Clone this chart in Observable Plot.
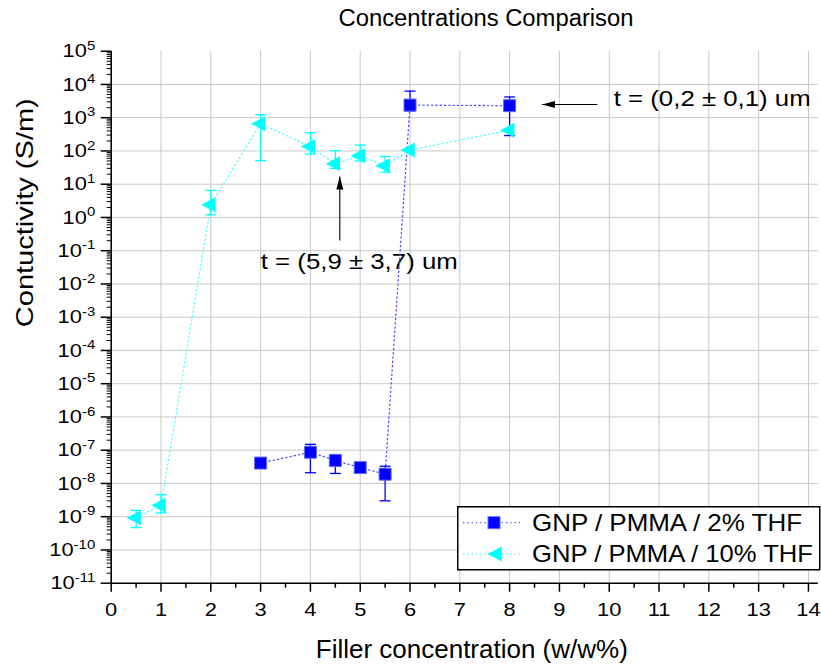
<!DOCTYPE html>
<html><head><meta charset="utf-8">
<script src="https://cdn.jsdelivr.net/npm/d3@7"></script>
<script src="https://cdn.jsdelivr.net/npm/@observablehq/plot@0.6"></script>
<style>
body{margin:0;background:#fff;font-family:"Liberation Sans",Arial,sans-serif;}
#wrap{position:relative;width:821px;height:664px;overflow:hidden;background:#fff;}
#title{position:relative;height:36px;}
#title span{position:absolute;left:486px;top:7px;font-size:23px;line-height:23px;white-space:nowrap;transform-origin:center;color:#000;}
#legend{position:absolute;left:457px;top:506px;}
</style></head><body>
<div id="wrap"><div id="title"><span id="t"></span></div><div id="chart"></div><svg id="legend" width="364" height="66"></svg></div>
<script>
// ---- text ----
const titleText = "Concentrations Comparison";
const xLabel = "Filler concentration (w/w%)";
const yLabel = "Contuctivity (S/m)";
const seriesNames = ["GNP / PMMA / 2% THF", "GNP / PMMA / 10% THF"];
const seriesColors = ["#0000ff", "#00ffff"];

// ---- series 1: GNP / PMMA / 2% THF ----
const conc2 = [3, 4, 4.5, 5, 5.5, 6, 8];
const cond2 = [4.1e-8, 8.7e-8, 4.9e-8, 3.0e-8, 1.9e-8, 2.4e3, 2.3e3];
const err2Lo = [null, 2.1e-8, 2.0e-8, null, 3.0e-9, 1.6e3, 2.9e2];
const err2Hi = [null, 1.5e-7, 7.4e-8, null, 3.3e-8, 6.3e3, 4.2e3];

// ---- series 2: GNP / PMMA / 10% THF ----
const conc10 = [0.5, 1, 2, 3, 4, 4.5, 5, 5.5, 6, 8];
const cond10 = [9.3e-10, 2.2e-9, 2.4, 660, 135, 41, 72, 36, 107, 420];
const err10Lo = [4.7e-10, 1.3e-9, 1.2, 51, 80, 30, 50, 23, null, null];
const err10Hi = [1.55e-9, 4.6e-9, 6.5, 1230, 355, 102, 150, 68, null, null];

// ---- axis ticks ----
const xTicks = d3.range(0, 15);
const xMinor = d3.range(0.5, 14, 1);
const yExponents = d3.range(-11, 6);

// ---- annotations (data coordinates) ----
const noteText = ["t = (0,2 ± 0,1) um", "t = (5,9 ± 3,7) um"];
const noteX = [10.09, 4.98];
const noteY = [Math.pow(10, 3.57), Math.pow(10, -1.346)];
const noteAnchor = ["start", "middle"];
const arrowFromX = [9.76, 4.59];
const arrowFromY = [Math.pow(10, 3.397), Math.pow(10, -0.69)];
const arrowToX = [8.65, 4.59];
const arrowToY = [Math.pow(10, 3.397), Math.pow(10, 1.23)];

// ---- build tables ----
const rows2 = conc2.map((x, i) => ({x, y: cond2[i], lo: err2Lo[i], hi: err2Hi[i]}));
const rows10 = conc10.map((x, i) => ({x, y: cond10[i], lo: err10Lo[i], hi: err10Hi[i]}));
const errs = rows => rows.filter(d => d.lo != null && d.hi != null);
const caps = rows => errs(rows).flatMap(d => [{x: d.x, y: d.lo}, {x: d.x, y: d.hi}]);
const yDecades = yExponents.map(e => Math.pow(10, e));
const yMinor = [];
for (let e = -11; e < 5; e++) for (let k = 2; k < 10; k++) yMinor.push(k * Math.pow(10, e));
const notes = noteText.map((t, i) => ({t, x: noteX[i], y: noteY[i], anchor: noteAnchor[i]}));
const arrows = arrowFromX.map((x1, i) => ({x1, y1: arrowFromY[i], x2: arrowToX[i], y2: arrowToY[i]}));

// ---- symbols ----
const squareSym = {draw(c) { c.rect(-6, -6, 12, 12); }};
const triLeftSym = {draw(c) { c.moveTo(-9.5, 0); c.lineTo(4.75, -7.5); c.lineTo(4.75, 7.5); c.closePath(); }};
const capSym = {draw(c) { c.moveTo(-5.5, 0); c.lineTo(5.5, 0); }};
const headLeft = {draw(c) { c.moveTo(0, 0); c.lineTo(13, -3.5); c.lineTo(13, 3.5); c.closePath(); }};
const headUp = {draw(c) { c.moveTo(0, 0); c.lineTo(-3.5, 13); c.lineTo(3.5, 13); c.closePath(); }};

const fam = '"Liberation Sans", Arial, sans-serif';
const dotted = {strokeWidth: 1.3, strokeDasharray: "1.3,3"};

const chart = Plot.plot({
  width: 821, height: 628,
  marginTop: 14.7, marginBottom: 81.3, marginLeft: 110.7, marginRight: 3.1,
  style: {fontFamily: fam, fontSize: "19px", color: "black", background: "white", overflow: "visible"},
  x: {domain: [0, 14.2]},
  y: {type: "log", domain: [1e-11, 1e5]},
  marks: [
    Plot.gridX(xTicks.slice(1), {stroke: "#c8c8c8", strokeOpacity: 1, strokeWidth: 1}),
    Plot.gridY(yDecades.slice(1, -1), {stroke: "#c8c8c8", strokeOpacity: 1, strokeWidth: 1}),
    Plot.ruleX([0], {stroke: "black", strokeWidth: 1.6}),
    Plot.ruleY([1e-11], {stroke: "black", strokeWidth: 1.6}),
    Plot.axisX(xTicks, {tickSize: 9, tickPadding: 10, tickFormat: d => String(d), label: null, fontSize: 19, strokeWidth: 1.5}),
    Plot.axisX(xMinor, {tickSize: 5, tickFormat: () => "", label: null, strokeWidth: 1.5}),
    Plot.axisY(yDecades, {tickSize: 10, tickPadding: 6, tickFormat: d => "10^" + Math.round(Math.log10(d)), label: null, fontSize: 19, strokeWidth: 1.5}),
    Plot.axisY(yMinor, {tickSize: 4, tickFormat: () => "", label: null, strokeWidth: 1}),
    // annotations
    Plot.link(arrows, {x1: "x1", y1: "y1", x2: "x2", y2: "y2", stroke: "black", strokeWidth: 1.1}),
    Plot.dot(arrows.filter(a => a.y1 === a.y2), {x: "x2", y: "y2", symbol: headLeft, fill: "black", stroke: "none"}),
    Plot.dot(arrows.filter(a => a.y1 !== a.y2), {x: "x2", y: "y2", symbol: headUp, fill: "black", stroke: "none"}),
    Plot.text(notes.filter(n => n.anchor === "start"), {x: "x", y: "y", text: "t", textAnchor: "start", fontSize: 22, fill: "black"}),
    Plot.text(notes.filter(n => n.anchor === "middle"), {x: "x", y: "y", text: "t", textAnchor: "middle", fontSize: 22, fill: "black"}),
    // series 1
    Plot.line(rows2, {x: "x", y: "y", stroke: "#5555ff", ...dotted}),
    Plot.ruleX(errs(rows2), {x: "x", y1: "lo", y2: "hi", stroke: seriesColors[0], strokeWidth: 1.3}),
    Plot.dot(caps(rows2), {x: "x", y: "y", symbol: capSym, stroke: seriesColors[0], fill: "none", strokeWidth: 1.3}),
    Plot.dot(rows2, {x: "x", y: "y", symbol: squareSym, fill: seriesColors[0], stroke: "#6666ff", strokeWidth: 1}),
    // series 2
    Plot.line(rows10, {x: "x", y: "y", stroke: "#55ffff", ...dotted}),
    Plot.ruleX(errs(rows10), {x: "x", y1: "lo", y2: "hi", stroke: seriesColors[1], strokeWidth: 1.3}),
    Plot.dot(caps(rows10), {x: "x", y: "y", symbol: capSym, stroke: seriesColors[1], fill: "none", strokeWidth: 1.3}),
    Plot.dot(rows10, {x: "x", y: "y", symbol: triLeftSym, fill: seriesColors[1], stroke: "none"}),
    // axis titles
    Plot.text([xLabel], {text: d => d, frameAnchor: "bottom", dx: 7, dy: 75, fontSize: 25, fill: "black"}),
    Plot.text([yLabel], {text: d => d, frameAnchor: "left", rotate: -90, dx: -86, dy: 10, fontSize: 24, fill: "black"})
  ]
});
document.getElementById("chart").appendChild(chart);

// ---- title ----
const tspan = document.getElementById("t");
tspan.textContent = titleText;
const tw = tspan.getBoundingClientRect().width;
tspan.style.transform = `translateX(-50%) scaleX(${295 / tw})`;

// ---- text helpers: widen glyphs without moving anchors ----
function stretch(el, s) {
  if (!el.textContent.trim()) return;
  const w = el.getComputedTextLength();
  if (w > 0) {
    el.setAttribute("textLength", (w * s).toFixed(2));
    el.setAttribute("lengthAdjust", "spacingAndGlyphs");
  }
}
function fit(el, target) {
  const w = el.getComputedTextLength();
  if (w > 0) stretch(el, target / w);
}

// superscript exponents on y tick labels
chart.querySelectorAll("text").forEach(el => {
  const m = /^10\^(-?\d+)$/.exec(el.textContent);
  if (m) {
    el.textContent = "10";
    const sup = document.createElementNS("http://www.w3.org/2000/svg", "tspan");
    sup.setAttribute("dy", "-7.5");
    sup.setAttribute("font-size", "13");
    sup.textContent = m[1];
    el.appendChild(sup);
    stretch(el, 1.15);
  } else if (/^\d+$/.test(el.textContent)) {
    stretch(el, 1.15);
  } else if (el.textContent === xLabel) {
    fit(el, 312);
  } else if (el.textContent === yLabel) {
    fit(el, 229);
  } else if (noteText.includes(el.textContent)) {
    fit(el, 197);
  }
});

// ---- legend ----
const lg = d3.select("#legend");
lg.append("rect").attr("x", 0.75).attr("y", 0.75).attr("width", 362).attr("height", 63)
  .attr("fill", "white").attr("stroke", "black").attr("stroke-width", 1.5);
const rowY = [16.7, 48];
const legendWidths = [270, 281];
seriesNames.forEach((name, i) => {
  const g = lg.append("g").attr("transform", `translate(0,${rowY[i]})`);
  g.append("line").attr("x1", 6).attr("x2", 63).attr("y1", 0).attr("y2", 0)
    .attr("stroke", i === 0 ? "#5555ff" : "#55ffff").attr("stroke-width", 1.3).attr("stroke-dasharray", "1.3,3");
  if (i === 0) {
    g.append("rect").attr("x", 37 - 6).attr("y", -6).attr("width", 12).attr("height", 12)
      .attr("fill", seriesColors[0]).attr("stroke", "#6666ff");
  } else {
    const p = d3.path(); triLeftSym.draw(p);
    g.append("path").attr("d", p.toString()).attr("transform", "translate(40,0)").attr("fill", seriesColors[1]);
  }
  const t = g.append("text").attr("x", 75).attr("y", 0).attr("dy", "0.35em")
    .attr("font-family", fam).attr("font-size", 24).attr("fill", "black").text(name);
  fit(t.node(), legendWidths[i]);
});
</script>
</body></html>
